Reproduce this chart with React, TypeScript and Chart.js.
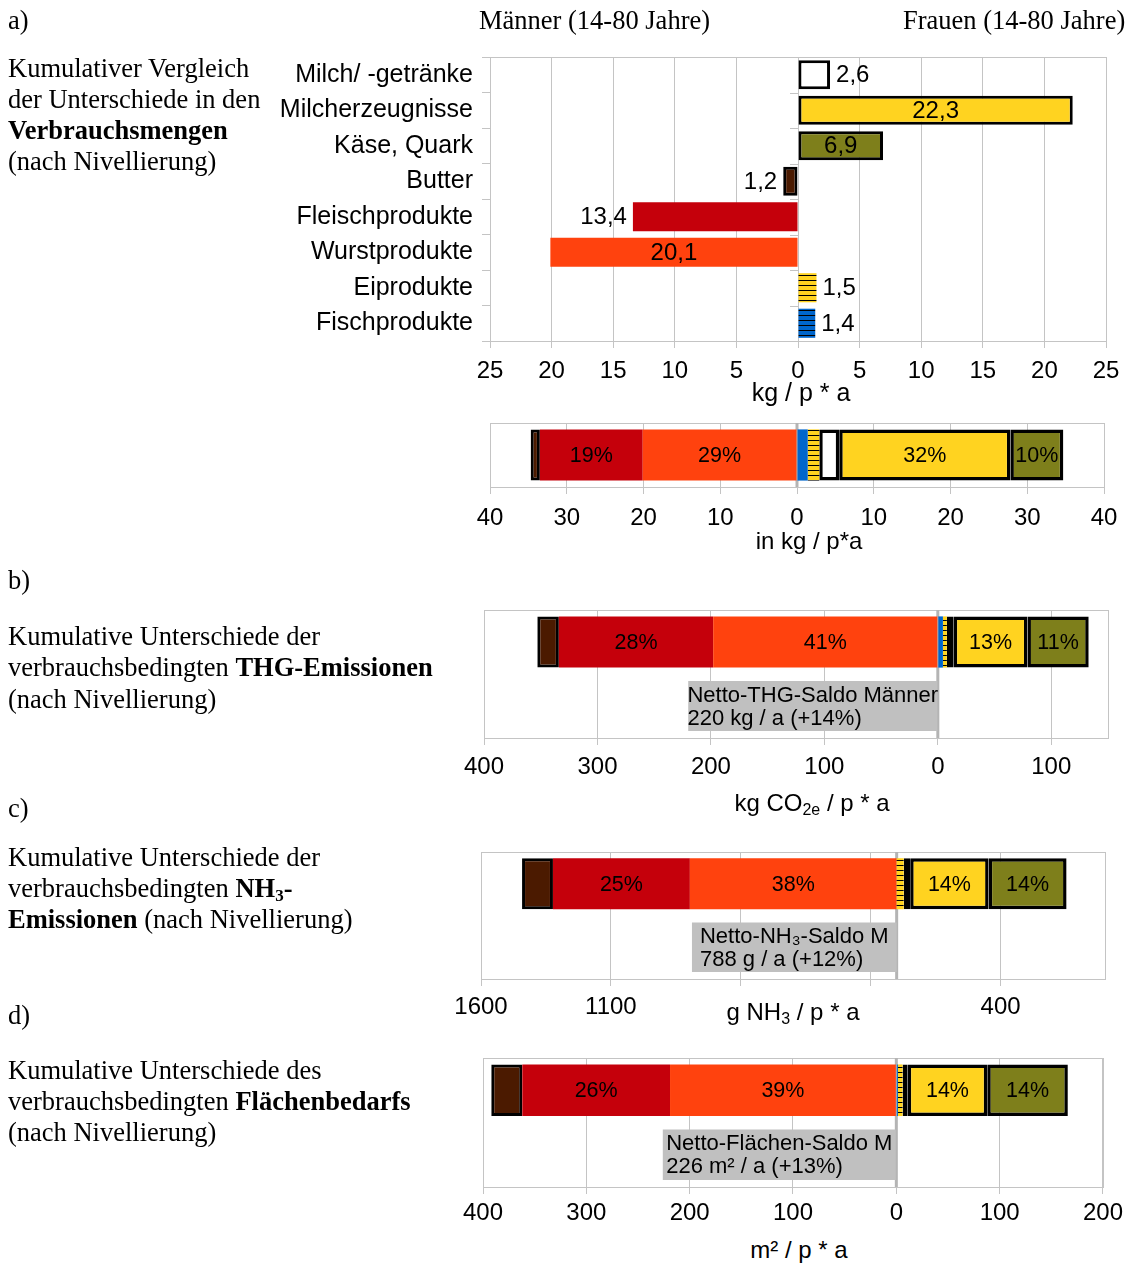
import React, { useEffect, useRef } from 'react';
import { Chart, registerables } from 'chart.js';

Chart.register(...registerables);

// ---------------- data ----------------
const CATEGORIES = [
  'Milch/ -getränke',
  'Milcherzeugnisse',
  'Käse, Quark',
  'Butter',
  'Fleischprodukte',
  'Wurstprodukte',
  'Eiprodukte',
  'Fischprodukte',
];
// positive = Frauen mehr, negative = Männer mehr
const MENGEN = [2.6, 22.3, 6.9, -1.2, -13.4, -20.1, 1.5, 1.4]; // kg / p * a
const THG = [6, 65, 54, -19, -136, -198, 3.5, 4.5]; // kg CO2e / p * a
const NH3 = [25, 302, 300, -119, -527, -796, 27, 0]; // g NH3 / p * a
const FLAECHE = [5, 77, 78, -30, -143, -219, 4.5, 1.5]; // m² / p * a

const PCT_MENGEN = ['', '32%', '10%', '', '19%', '29%', '', ''];
const PCT_THG = ['', '13%', '11%', '', '28%', '41%', '', ''];
const PCT_NH3 = ['', '14%', '14%', '', '25%', '38%', '', ''];
const PCT_FLAECHE = ['', '14%', '14%', '', '26%', '39%', '', ''];

const NET_THG = -220;
const NET_NH3 = -788;
const NET_FLAECHE = -226;
const NET_THG_TEXT = ['Netto-THG-Saldo Männer', '220 kg / a (+14%)'];
const NET_NH3_TEXT = ['Netto-NH₃-Saldo M', '788 g / a (+12%)'];
const NET_FLAECHE_TEXT = ['Netto-Flächen-Saldo M', '226 m² / a (+13%)'];

const TICKS_MENGEN = [-25, -20, -15, -10, -5, 0, 5, 10, 15, 20, 25];
const TICKS_SUMME = [-40, -30, -20, -10, 0, 10, 20, 30, 40];
const TICKS_THG = [-400, -300, -200, -100, 0, 100];
const TICKS_NH3 = [-1600, -1100, -600, -100, 400];
const TICK_LABELS_NH3 = ['1600', '1100', '', '', '400'];
const TICKS_FLAECHE = [-400, -300, -200, -100, 0, 100, 200];

const RANGE_MENGEN = [-25, 25];
const RANGE_SUMME = [-40, 40];
const RANGE_THG = [-400, 150];
const RANGE_NH3 = [-1600, 800];
const RANGE_FLAECHE = [-400, 200];

// stacking order (closest to zero first)
const STACK_ORDER = [7, 6, 0, 1, 2, 5, 4, 3];

// ---------------- style ----------------
const PAGE_W = 1128;
const SANS = '"Liberation Sans", Arial, Helvetica, sans-serif';
const SERIF = '"Liberation Serif", "Times New Roman", Times, serif';
const GRID = '#c4c4c4';
const ZERO = '#b4b4b4';
const BOX = '#c0c0c0';
const YELLOW = '#ffd320';
const BLUE = '#0066cc';
const FILL = ['#ffffff', YELLOW, '#7e7f1b', '#4b1a00', '#c5000b', '#ff420e', YELLOW, BLUE];
const BORDERED = [true, true, true, true, false, false, false, false];
const LABEL_PLACE = ['out', 'in', 'in', 'out', 'out', 'in', 'out', 'out'];

const TICK_FONT = 24;
const CAT_FONT = 25;
const VALUE_FONT = 24;
const PCT_FONT = 21.5;
const BOX_FONT = 22;

Chart.defaults.font.family = SANS;
Chart.defaults.color = '#000';

type Geom = {
  canvasTop: number;
  plotTop: number;
  plotBottom: number;
  plotLeft: number;
  plotRight: number;
  xAxisH: number;
  tickPad: number;
};

const G_A1: Geom = { canvasTop: 20, plotTop: 57, plotBottom: 341, plotLeft: 490, plotRight: 1106, xAxisH: 45, tickPad: 8.5 };
const G_A2: Geom = { canvasTop: 390, plotTop: 423, plotBottom: 487, plotLeft: 490, plotRight: 1104, xAxisH: 42, tickPad: 9.5 };
const G_B: Geom = { canvasTop: 575, plotTop: 610, plotBottom: 738, plotLeft: 484, plotRight: 1108, xAxisH: 42, tickPad: 7.5 };
const G_C: Geom = { canvasTop: 815, plotTop: 852, plotBottom: 979, plotLeft: 481, plotRight: 1104.5, xAxisH: 40, tickPad: 6.5 };
const G_D: Geom = { canvasTop: 1022, plotTop: 1058, plotBottom: 1187, plotLeft: 483, plotRight: 1106, xAxisH: 40, tickPad: 5 };

const canvasH = (g: Geom) => g.plotBottom + g.xAxisH - g.canvasTop;

const fmt = (v: number) => Math.abs(v).toFixed(1).replace('.', ',');

function makePattern(bg: string, h: number) {
  const c = document.createElement('canvas');
  c.width = 8;
  c.height = h;
  const x = c.getContext('2d') as CanvasRenderingContext2D;
  x.fillStyle = bg;
  x.fillRect(0, 0, 8, h);
  x.fillStyle = '#000';
  x.fillRect(0, 0, 8, 1);
  return x.createPattern(c, 'repeat') as CanvasPattern;
}

const decorPlugin = {
  id: 'decor',
  beforeDatasetsDraw(chart: any, _args: any, opts: any) {
    const { ctx, chartArea: a, scales } = chart;
    ctx.save();
    ctx.strokeStyle = GRID;
    ctx.lineWidth = 1;
    ctx.strokeRect(Math.round(a.left) + 0.5, Math.round(a.top) + 0.5, Math.round(a.right) - Math.round(a.left), Math.round(a.bottom) - Math.round(a.top));
    const x0 = scales.x.getPixelForValue(0);
    if (opts && opts.zeroTicks) {
      const y = scales.y;
      const n = chart.data.labels.length;
      for (let i = 1; i < n; i++) {
        const py = Math.round((y.getPixelForTick(i - 1) + y.getPixelForTick(i)) / 2) + 0.5;
        ctx.beginPath();
        ctx.moveTo(x0 - 8, py);
        ctx.lineTo(x0, py);
        ctx.stroke();
      }
    }
    if (opts && opts.zeroLine) {
      ctx.strokeStyle = ZERO;
      ctx.lineWidth = 3;
      ctx.beginPath();
      ctx.moveTo(x0, a.top);
      ctx.lineTo(x0, a.bottom);
      ctx.stroke();
    }
    ctx.restore();
  },
};

const textPlugin = {
  id: 'barText',
  afterDatasetsDraw(chart: any) {
    const ctx = chart.ctx as CanvasRenderingContext2D;
    chart.data.datasets.forEach((ds: any, di: number) => {
      const meta = chart.getDatasetMeta(di);
      meta.data.forEach((el: any, i: number) => {
        const v = ds.data[i];
        if (v === null || v === undefined) return;
        const { x, y, base } = el.getProps(['x', 'y', 'base'], true);
        ctx.save();
        ctx.fillStyle = '#000';
        ctx.textBaseline = 'middle';
        if (ds.valueLabels) {
          ctx.font = `${VALUE_FONT}px ${SANS}`;
          const place = ds.labelPlace[i];
          if (place === 'in') {
            ctx.textAlign = 'center';
            ctx.fillText(ds.valueLabels[i], (x + base) / 2, y + 1);
          } else if (v >= 0) {
            ctx.textAlign = 'left';
            ctx.fillText(ds.valueLabels[i], x + 6, y + 1);
          } else {
            ctx.textAlign = 'right';
            ctx.fillText(ds.valueLabels[i], x - 6, y + 1);
          }
        }
        if (ds.segLabel) {
          ctx.font = `${PCT_FONT}px ${SANS}`;
          ctx.textAlign = 'center';
          ctx.fillText(ds.segLabel, (x + base) / 2, y + 1);
        }
        if (ds.boxLines) {
          ctx.font = `${BOX_FONT}px ${SANS}`;
          ctx.textAlign = 'left';
          const lines: string[] = ds.boxLines;
          const w = Math.max(...lines.map((l) => ctx.measureText(l).width));
          const cx = (x + base) / 2;
          const lh = 23;
          lines.forEach((l, k) => ctx.fillText(l, cx - w / 2, y + 1 + (k - (lines.length - 1) / 2) * lh));
        }
        ctx.restore();
      });
    });
  },
};

function xScale(g: Geom, range: number[], ticks: number[], labels: string[] | null, stacked: boolean) {
  return {
    type: 'linear',
    min: range[0],
    max: range[1],
    stacked,
    afterBuildTicks: (s: any) => {
      s.ticks = ticks.map((v) => ({ value: v }));
    },
    ticks: {
      autoSkip: false,
      maxRotation: 0,
      padding: g.tickPad,
      color: '#000',
      font: { size: TICK_FONT },
      callback: (v: number, i: number) => (labels ? labels[i] : String(Math.abs(v))),
    },
    grid: { color: GRID, lineWidth: 1, tickLength: 7, drawTicks: true },
    border: { display: false },
    afterFit: (s: any) => {
      s.height = g.xAxisH;
    },
  };
}

function baseOptions(g: Geom, x: any, y: any, decor: any) {
  return {
    indexAxis: 'y',
    animation: false,
    responsive: false,
    maintainAspectRatio: false,
    events: [],
    layout: { padding: { left: 0, right: PAGE_W - g.plotRight, top: g.plotTop - g.canvasTop, bottom: 0 } },
    plugins: { legend: { display: false }, tooltip: { enabled: false }, decor },
    scales: {
      x,
      y: {
        ...y,
        afterFit: (s: any) => {
          s.width = g.plotLeft;
        },
      },
    },
  };
}

function detailConfig(patEi: CanvasPattern, patFisch: CanvasPattern): any {
  const g = G_A1;
  const fills = FILL.map((f, i) => (i === 6 ? patEi : i === 7 ? patFisch : f));
  return {
    type: 'bar',
    data: {
      labels: CATEGORIES,
      datasets: [
        {
          data: MENGEN,
          backgroundColor: fills,
          borderColor: '#000',
          borderWidth: BORDERED.map((b) => (b ? 3 : 0)),
          borderSkipped: false,
          barPercentage: 0.82,
          categoryPercentage: 1,
          valueLabels: MENGEN.map(fmt),
          labelPlace: LABEL_PLACE,
        },
      ],
    },
    options: baseOptions(
      g,
      xScale(g, RANGE_MENGEN, TICKS_MENGEN, null, false),
      {
        type: 'category',
        ticks: { color: '#000', font: { size: CAT_FONT }, padding: 9, autoSkip: false },
        grid: { display: true, drawOnChartArea: false, drawTicks: true, tickLength: 8, offset: true, color: GRID },
        border: { display: false },
      },
      { zeroTicks: true, zeroLine: false }
    ),
    plugins: [decorPlugin, textPlugin],
  };
}

function stackedConfig(
  g: Geom,
  values: number[],
  pct: string[],
  net: number | null,
  netText: string[] | null,
  range: number[],
  ticks: number[],
  labels: string[] | null,
  patEi: CanvasPattern
): any {
  const hasNet = net !== null;
  const datasets: any[] = STACK_ORDER.map((ci) => ({
    label: CATEGORIES[ci],
    data: hasNet ? [values[ci], null] : [values[ci]],
    backgroundColor: ci === 6 ? patEi : FILL[ci],
    borderColor: '#000',
    borderWidth: BORDERED[ci] ? (ci === 3 ? 3 : 3.5) : 0,
    borderSkipped: false,
    barPercentage: 0.8,
    categoryPercentage: 1,
    segLabel: pct[ci],
  }));
  if (hasNet) {
    datasets.push({
      label: 'Netto',
      data: [null, net],
      backgroundColor: BOX,
      borderWidth: 0,
      barPercentage: 0.78,
      categoryPercentage: 1,
      boxLines: netText,
    });
  }
  return {
    type: 'bar',
    data: { labels: hasNet ? ['', ''] : [''], datasets },
    options: baseOptions(
      g,
      xScale(g, range, ticks, labels, true),
      {
        type: 'category',
        stacked: true,
        ticks: { display: false },
        grid: { display: false },
        border: { display: false },
      },
      { zeroTicks: false, zeroLine: true }
    ),
    plugins: [decorPlugin, textPlugin],
  };
}

const Serif = ({ x, y, children }: any) => (
  <div
    style={{
      position: 'absolute',
      left: x,
      top: y - 15,
      fontFamily: SERIF,
      fontSize: 26.5,
      lineHeight: '31px',
      whiteSpace: 'nowrap',
      color: '#000',
    }}
  >
    {children}
  </div>
);

const AxisTitle = ({ cx, y, size = 24, children }: any) => (
  <div
    style={{
      position: 'absolute',
      left: cx,
      top: y - 14,
      transform: 'translateX(-50%)',
      fontFamily: SANS,
      fontSize: size,
      lineHeight: '28px',
      whiteSpace: 'nowrap',
      color: '#000',
    }}
  >
    {children}
  </div>
);

const subStyle = { fontSize: 16, verticalAlign: -4 } as React.CSSProperties;

export default function App() {
  const r1 = useRef<HTMLCanvasElement>(null);
  const r2 = useRef<HTMLCanvasElement>(null);
  const r3 = useRef<HTMLCanvasElement>(null);
  const r4 = useRef<HTMLCanvasElement>(null);
  const r5 = useRef<HTMLCanvasElement>(null);

  useEffect(() => {
    const patEi = makePattern(YELLOW, 5);
    const patFisch = makePattern(BLUE, 5);
    const charts: Chart[] = [];
    charts.push(new Chart(r1.current as HTMLCanvasElement, detailConfig(patEi, patFisch)));
    charts.push(
      new Chart(
        r2.current as HTMLCanvasElement,
        stackedConfig(G_A2, MENGEN, PCT_MENGEN, null, null, RANGE_SUMME, TICKS_SUMME, null, patEi)
      )
    );
    charts.push(
      new Chart(
        r3.current as HTMLCanvasElement,
        stackedConfig(G_B, THG, PCT_THG, NET_THG, NET_THG_TEXT, RANGE_THG, TICKS_THG, null, patEi)
      )
    );
    charts.push(
      new Chart(
        r4.current as HTMLCanvasElement,
        stackedConfig(G_C, NH3, PCT_NH3, NET_NH3, NET_NH3_TEXT, RANGE_NH3, TICKS_NH3, TICK_LABELS_NH3, patEi)
      )
    );
    charts.push(
      new Chart(
        r5.current as HTMLCanvasElement,
        stackedConfig(G_D, FLAECHE, PCT_FLAECHE, NET_FLAECHE, NET_FLAECHE_TEXT, RANGE_FLAECHE, TICKS_FLAECHE, null, patEi)
      )
    );
    return () => charts.forEach((c) => c.destroy());
  }, []);

  const cv = (ref: any, g: Geom) => (
    <canvas
      ref={ref}
      width={PAGE_W}
      height={canvasH(g)}
      style={{ position: 'absolute', left: 0, top: g.canvasTop, width: PAGE_W, height: canvasH(g) }}
    />
  );

  return (
    <div style={{ position: 'absolute', left: 0, top: 0, width: PAGE_W, height: 1264, background: '#fff', overflow: 'hidden' }}>
      {cv(r1, G_A1)}
      {cv(r2, G_A2)}
      {cv(r3, G_B)}
      {cv(r4, G_C)}
      {cv(r5, G_D)}

      <Serif x={8} y={20}>a)</Serif>
      <Serif x={479} y={20}>Männer (14-80 Jahre)</Serif>
      <Serif x={903} y={20}>Frauen (14-80 Jahre)</Serif>
      <Serif x={8} y={68}>Kumulativer Vergleich</Serif>
      <Serif x={8} y={99}>der Unterschiede in den</Serif>
      <Serif x={8} y={130}><b>Verbrauchsmengen</b></Serif>
      <Serif x={8} y={161}>(nach Nivellierung)</Serif>

      <Serif x={8} y={580}>b)</Serif>
      <Serif x={8} y={636}>Kumulative Unterschiede der</Serif>
      <Serif x={8} y={667}>verbrauchsbedingten <b>THG-Emissionen</b></Serif>
      <Serif x={8} y={699}>(nach Nivellierung)</Serif>

      <Serif x={8} y={808}>c)</Serif>
      <Serif x={8} y={857}>Kumulative Unterschiede der</Serif>
      <Serif x={8} y={888}>
        verbrauchsbedingten <b>NH<span style={{ fontSize: 17, verticalAlign: -4 }}>3</span>-</b>
      </Serif>
      <Serif x={8} y={919}><b>Emissionen</b> (nach Nivellierung)</Serif>

      <Serif x={8} y={1015}>d)</Serif>
      <Serif x={8} y={1070}>Kumulative Unterschiede des</Serif>
      <Serif x={8} y={1101}>verbrauchsbedingten <b>Flächenbedarfs</b></Serif>
      <Serif x={8} y={1132}>(nach Nivellierung)</Serif>

      <AxisTitle cx={801} y={392} size={25}>kg / p * a</AxisTitle>
      <AxisTitle cx={809} y={541}>in kg / p*a</AxisTitle>
      <AxisTitle cx={812} y={803}>
        kg CO<span style={subStyle}>2e</span> / p * a
      </AxisTitle>
      <AxisTitle cx={793} y={1012}>
        g NH<span style={subStyle}>3</span> / p * a
      </AxisTitle>
      <AxisTitle cx={799} y={1250}>m² / p * a</AxisTitle>
    </div>
  );
}
